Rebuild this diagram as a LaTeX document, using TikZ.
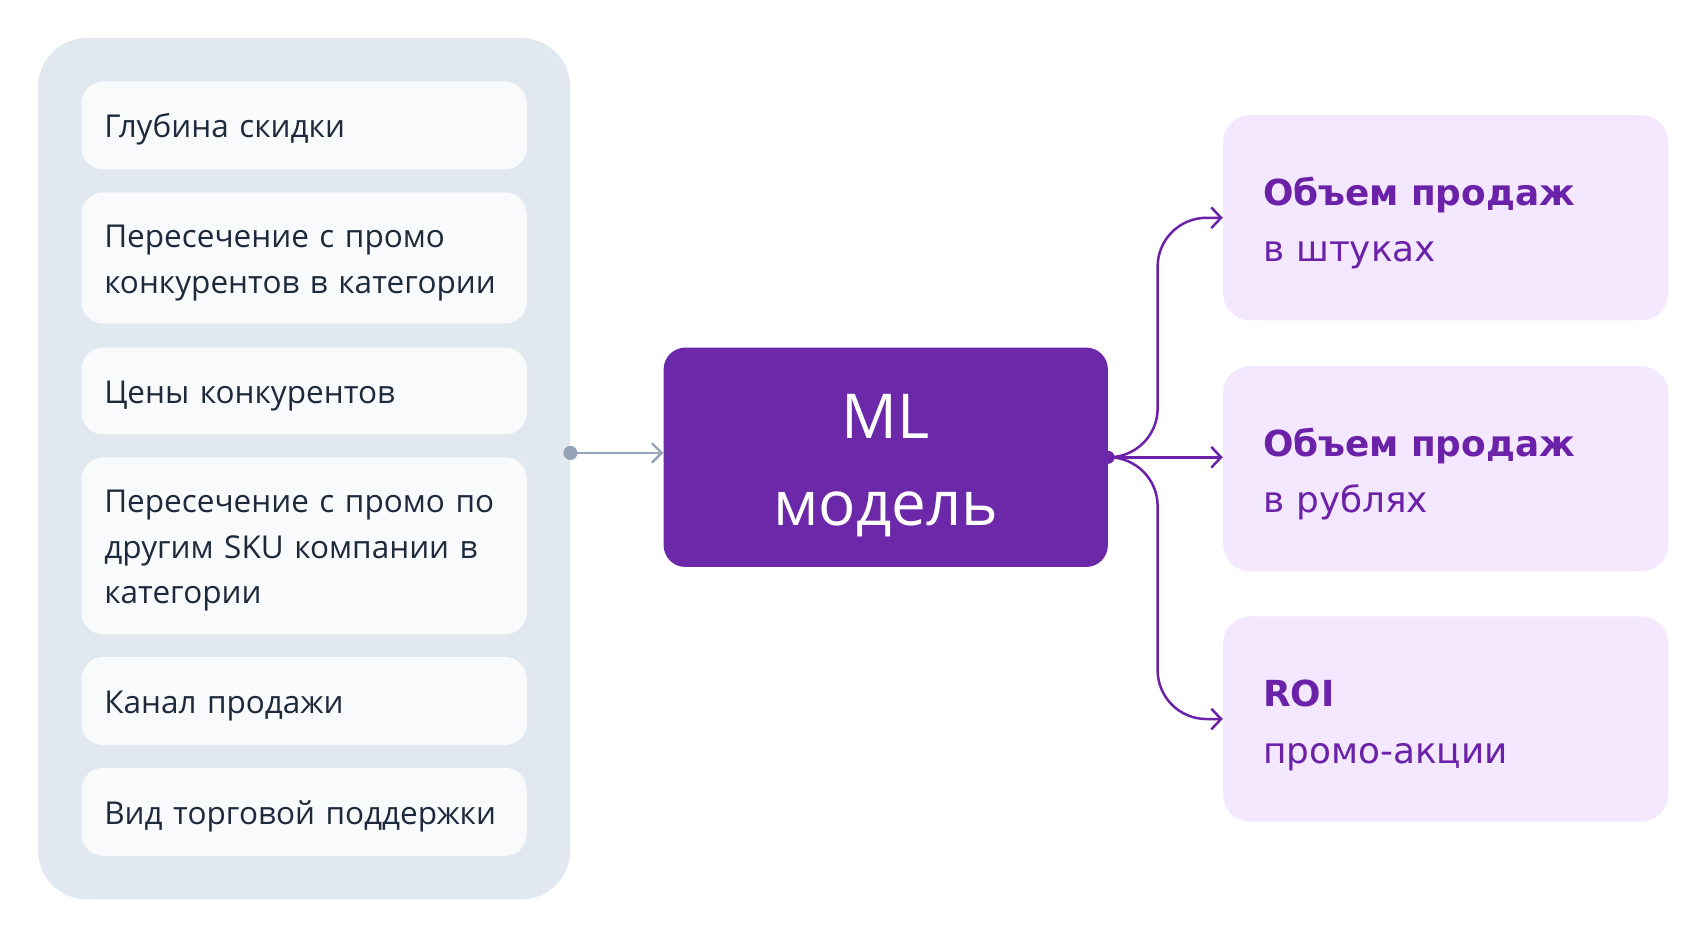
\documentclass[tikz,border=0pt]{standalone}
\usepackage{fontspec}
\setmainfont{Open Sans}
\newfontfamily\outfont{DejaVu Sans}
\usetikzlibrary{positioning,arrows.meta,calc}
\definecolor{panelbg}{HTML}{E2E8F0}
\definecolor{factorbg}{HTML}{F8FAFC}
\definecolor{textdark}{HTML}{1E293B}
\definecolor{graylink}{HTML}{94A3B8}
\definecolor{mlpurple}{HTML}{6B28A8}
\definecolor{outbg}{HTML}{F3E8FF}
\definecolor{outtext}{HTML}{6B21A8}
\newcommand{\firstline}[1]{\rule{0pt}{#1}}

\begin{document}
\begin{tikzpicture}[x=1pt,y=-1pt]
	\tikzset{
		panel/.style={fill=panelbg,rounded corners=45pt,minimum width=490pt,minimum height=793pt},
		factor/.style={fill=factorbg,rounded corners=20pt,minimum width=410pt,text width=368pt,
			inner xsep=21pt,inner ysep=0pt,align=left,text=textdark,font=\fontsize{29}{42}\selectfont,
			execute at begin node=\firstline{30pt}},
		mlbox/.style={fill=mlpurple,rounded corners=20pt,minimum width=409pt,minimum height=202pt,
			align=center,text=white,font=\fontsize{57}{80}\selectfont},
		result/.style={fill=outbg,rounded corners=25pt,minimum width=408pt,minimum height=189pt,
			text width=336pt,inner xsep=37pt,align=left,text=outtext,font=\outfont\fontsize{33}{52}\selectfont,
			execute at begin node=\firstline{36pt}},
		dotgray/.style={circle,fill=graylink,inner sep=0pt,minimum size=13pt},
		dotpurple/.style={circle,fill=mlpurple,inner sep=0pt,minimum size=12pt},
		inarrow/.style={draw=graylink,line width=2.2pt,-{Straight Barb[length=9pt,width=18pt]}},
		outarrow/.style={draw=outtext,line width=2.3pt,-{Straight Barb[length=9pt,width=19pt]}}
	}
	\useasboundingbox (0,0) rectangle (1567,862);
	
	% inputs
	\node[panel] (panel) at (280,431.5) {};
	\node[factor,minimum height=81pt]  (f1) at (280,115.5) {Глубина скидки};
	\node[factor,minimum height=121pt] (f2) at (280,237.5) {Пересечение с промо\\конкурентов в категории};
	\node[factor,minimum height=80pt]  (f3) at (280,360)   {Цены конкурентов};
	\node[factor,minimum height=163pt] (f4) at (280,502.5) {Пересечение с промо по\\другим SKU компании в\\категории};
	\node[factor,minimum height=81pt]  (f5) at (280,645.5) {Канал продажи};
	\node[factor,minimum height=81pt]  (f6) at (280,747.5) {Вид торговой поддержки};
	
	% model
	\node[mlbox] (ml) at (815.5,421) {\firstline{56pt}ML\\модель};
	
	% outputs
	\node[result] (out1) at (1331,200.5) {\textbf{Объем продаж}\\в штуках};
	\node[result] (out2) at (1331,431.5) {\textbf{Объем продаж}\\в рублях};
	\node[result] (out3) at (1331,662)   {\textbf{ROI}\\промо-акции};
	
	\node[dotgray] (src) at (panel.east |- 0,417) {};
	\node[dotpurple] (hub) at (ml.east) {};
	
	\draw[inarrow] (src.center) -- (src.center -| ml.west);
	\draw[outarrow,rounded corners=45pt] (hub.center) -| ($(out1.west)+(-60,0)$) -- (out1.west);
	\draw[outarrow] (hub.center) -- (hub.center -| out2.west);
	\draw[outarrow,rounded corners=45pt] (hub.center) -| ($(out3.west)+(-60,0)$) -- (out3.west);
\end{tikzpicture}
\end{document}
